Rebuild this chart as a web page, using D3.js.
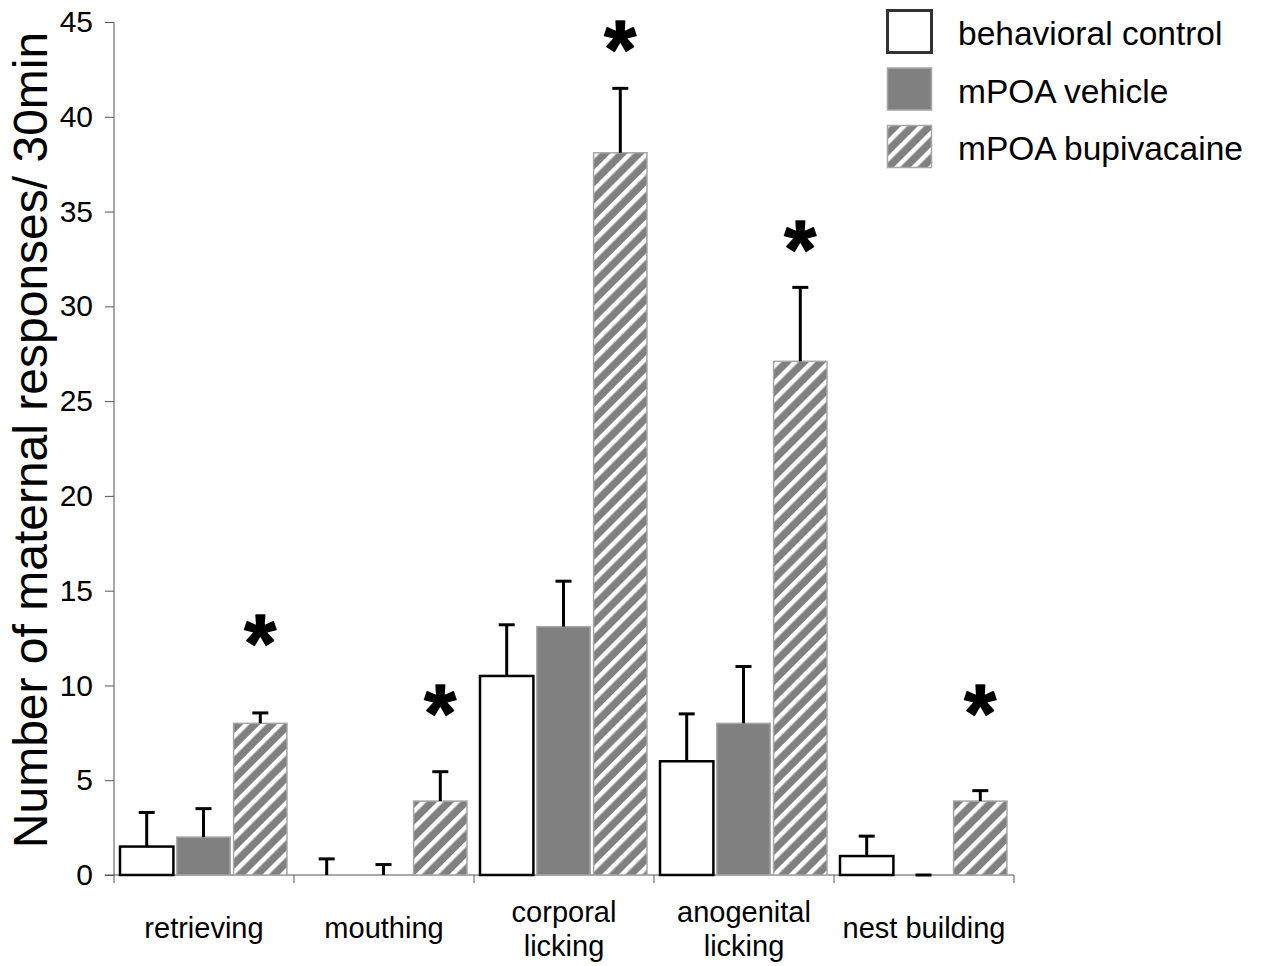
<!DOCTYPE html>
<html>
<head>
<meta charset="utf-8">
<script src="https://cdn.jsdelivr.net/npm/d3@7"></script>
<style>
  html, body { margin: 0; padding: 0; background: #fff; }
  svg { display: block; }
  text { font-family: "Liberation Sans", Arial, sans-serif; fill: #000; }
</style>
</head>
<body>
<svg id="chart" width="1263" height="966"></svg>
<script>
// ---- data ----
const categories = [["retrieving"], ["mouthing"], ["corporal", "licking"], ["anogenital", "licking"], ["nest building"]];
const seriesNames = ["behavioral control", "mPOA vehicle", "mPOA bupivacaine"];
const controlMean = [1.5, 0, 10.5, 6.0, 1.0];
const controlErr  = [3.3, 0.85, 13.2, 8.5, 2.05];
const vehicleMean = [2.0, 0, 13.1, 8.0, 0];
const vehicleErr  = [3.5, 0.55, 15.5, 11.0, 0];
const bupiMean    = [8.0, 3.9, 38.1, 27.1, 3.9];
const bupiErr     = [8.55, 5.45, 41.5, 31.0, 4.45];
const starLevel   = [12.8, 9.1, 44.15, 33.6, 9.1];
const yTicks = [0, 5, 10, 15, 20, 25, 30, 35, 40, 45];

// ---- layout ----
const svg = d3.select("#chart");
const x0 = 114, x1 = 1014, yTop = 22, yBottom = 875;

const x = d3.scaleBand().domain(d3.range(categories.length)).range([x0, x1]).paddingInner(0).paddingOuter(0);
const xs = d3.scaleBand().domain([0, 1, 2]).range([6, 173]).paddingInner(0.06).paddingOuter(0);
const y = d3.scaleLinear().domain([0, 45]).range([yBottom, yTop]);

const defs = svg.append("defs");
const pat = defs.append("pattern").attr("id", "hatch")
  .attr("patternUnits", "userSpaceOnUse").attr("width", 12).attr("height", 12)
  .attr("patternTransform", "rotate(45)");
pat.append("rect").attr("width", 12).attr("height", 12).attr("fill", "#808080");
pat.append("rect").attr("x", 0).attr("width", 4.5).attr("height", 12).attr("fill", "#ffffff");

const series = [
  { mean: controlMean, err: controlErr, fill: "#ffffff", stroke: "#000", sw: 2.5 },
  { mean: vehicleMean, err: vehicleErr, fill: "#808080", stroke: "#a6a6a6", sw: 1.5 },
  { mean: bupiMean,    err: bupiErr,    fill: "url(#hatch)", stroke: "#a6a6a6", sw: 1.5 }
];

// ---- axes ----
const yAxis = d3.axisLeft(y).tickValues(yTicks).tickSize(9).tickPadding(12);
const gy = svg.append("g").attr("transform", `translate(${x0},0)`).call(yAxis);
gy.select(".domain").attr("stroke", "#555").attr("stroke-width", 1).attr("d", `M0,${yTop}V${yBottom}`);
gy.selectAll(".tick line").attr("stroke", "#555");
gy.selectAll(".tick text").style("font-size", "30px").attr("font-family", "Liberation Sans, Arial, sans-serif");

const xAxis = d3.axisBottom(x).tickValues([]).tickSize(0);
const gx = svg.append("g").attr("transform", `translate(0,${yBottom})`).call(xAxis);
gx.select(".domain").attr("stroke", "#555").attr("stroke-width", 1).attr("d", `M${x0 - 9},0H${x1}`);
const boundaries = d3.range(categories.length).map(i => x(i)).concat([x1]);
gx.selectAll(".bound").data(boundaries).enter().append("line")
  .attr("x1", d => d).attr("x2", d => d).attr("y1", 0).attr("y2", 8)
  .attr("stroke", "#555").attr("stroke-width", 1);

// category labels
categories.forEach((lines, i) => {
  const cx = x(i) + x.bandwidth() / 2;
  const t = svg.append("text").attr("text-anchor", "middle").style("font-size", "29px");
  if (lines.length === 1) {
    t.append("tspan").attr("x", cx).attr("y", 938).text(lines[0]);
  } else {
    t.append("tspan").attr("x", cx).attr("y", 922).text(lines[0]);
    t.append("tspan").attr("x", cx).attr("y", 956).text(lines[1]);
  }
});

// y title
svg.append("text")
  .attr("transform", `translate(47,440) rotate(-90)`)
  .attr("text-anchor", "middle").style("font-size", "48px")
  .text("Number of maternal responses/ 30min");

// ---- bars ----
const gBars = svg.append("g");
series.forEach((s, si) => {
  const g = gBars.append("g");
  g.selectAll("rect").data(s.mean).enter().append("rect")
    .attr("x", (d, i) => x(i) + xs(si))
    .attr("width", xs.bandwidth())
    .attr("y", d => y(d))
    .attr("height", d => yBottom - y(d))
    .attr("fill", s.fill)
    .attr("stroke", d => d > 0 ? s.stroke : "none")
    .attr("stroke-width", s.sw);
});
// error bars
series.forEach((s, si) => {
  const g = gBars.append("g").attr("stroke", "#000").attr("stroke-width", 3);
  s.mean.forEach((m, i) => {
    const cx = x(i) + xs(si) + xs.bandwidth() / 2;
    g.append("line").attr("x1", cx).attr("x2", cx).attr("y1", y(m)).attr("y2", y(s.err[i]));
    g.append("line").attr("x1", cx - 8).attr("x2", cx + 8).attr("y1", y(s.err[i])).attr("y2", y(s.err[i]));
  });
});

// stars
const starSize = 82;
svg.selectAll(".star").data(starLevel).enter().append("text")
  .attr("class", "star")
  .attr("x", (d, i) => x(i) + xs(2) + xs.bandwidth() / 2)
  .attr("y", d => y(d) + 0.47 * starSize)
  .attr("text-anchor", "middle")
  .style("font-size", starSize + "px").style("font-weight", "bold")
  .attr("stroke", "#000").attr("stroke-width", 1.5).attr("stroke-linejoin", "round")
  .text("*");

// ---- legend ----
const lg = svg.append("g").attr("transform", "translate(886,9)");
const legStyles = [
  { fill: "#ffffff", stroke: "#333", sw: 3 },
  { fill: "#808080", stroke: "#a6a6a6", sw: 1.5 },
  { fill: "url(#hatch)", stroke: "#a6a6a6", sw: 1.5 }
];
seriesNames.forEach((n, i) => {
  const gi = lg.append("g").attr("transform", `translate(0,${i * 57.5})`);
  gi.append("rect").attr("x", 1.5).attr("y", 1.5).attr("width", 44).attr("height", 42)
    .attr("fill", legStyles[i].fill).attr("stroke", legStyles[i].stroke).attr("stroke-width", legStyles[i].sw);
  gi.append("text").attr("x", 72).attr("y", 36).style("font-size", "33.5px").text(n);
});
</script>
</body>
</html>
